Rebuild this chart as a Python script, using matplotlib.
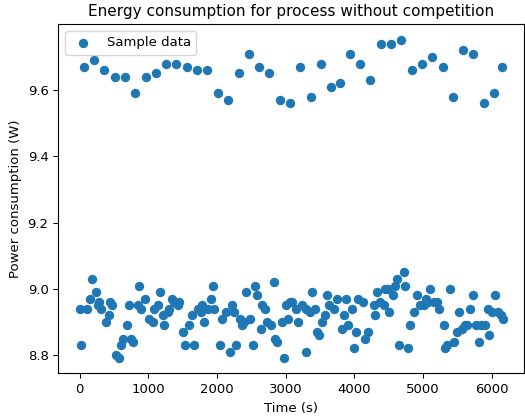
import matplotlib
matplotlib.use("Agg")
import matplotlib.pyplot as plt

# samples: time (s), power (W)
upper_t = [58, 208, 360, 510, 661, 812, 963, 1113, 1264, 1409, 1560, 1710,
           1861, 2012, 2162, 2314, 2464, 2615, 2765, 2911, 3061, 3212, 3363,
           3514, 3665, 3786, 3936, 4082, 4233, 4383, 4534, 4685, 4836, 4987,
           5137, 5288, 5438, 5584, 5735, 5886, 6036, 6150]
upper_p = [9.67, 9.69, 9.66, 9.64, 9.64, 9.59, 9.64, 9.65, 9.68, 9.68, 9.67,
           9.66, 9.66, 9.59, 9.57, 9.65, 9.71, 9.67, 9.65, 9.57, 9.56, 9.67,
           9.58, 9.68, 9.61, 9.62, 9.71, 9.68, 9.63, 9.74, 9.74, 9.75, 9.66,
           9.68, 9.70, 9.67, 9.58, 9.72, 9.71, 9.56, 9.59, 9.67]

lower_t = [0, 25, 107, 156, 179, 243, 267, 282, 316, 389, 423, 438, 477, 534,
           568, 598, 632, 690, 719, 753, 778, 850, 865, 899, 948,
           1016, 1064, 1088, 1137, 1171, 1220, 1234, 1283, 1307, 1346, 1380,
           1429, 1454, 1502, 1536, 1600, 1638, 1672, 1720, 1769, 1784, 1818,
           1866, 1914, 1949, 1963, 2040,
           2080, 2129, 2187, 2216, 2250, 2284, 2333, 2372, 2395, 2430, 2479,
           2527, 2556, 2585, 2639, 2663, 2702, 2736, 2790, 2824, 2848, 2877,
           2946, 2974, 3004, 3028, 3061,
           3095, 3145, 3183, 3241, 3291, 3304, 3349, 3387, 3426, 3460, 3485,
           3533, 3572, 3605, 3631, 3703, 3751, 3815, 3849, 3874, 3912, 3961,
           3994, 4019, 4058, 4126, 4155,
           4200, 4282, 4296, 4330, 4379, 4427, 4452, 4491, 4501, 4563, 4597,
           4622, 4655, 4719, 4743, 4776, 4807, 4865, 4913, 4962, 5011, 5044,
           5073, 5107, 5157, 5205,
           5230, 5300, 5320, 5350, 5390, 5455, 5490, 5528, 5575, 5608, 5640,
           5678, 5735, 5765, 5820, 5845, 5905, 5940, 5965, 6012, 6050, 6085,
           6130, 6165]
lower_p = [8.94, 8.83, 8.94, 8.97, 9.03, 8.99, 8.95, 8.96, 8.94, 8.90, 8.92,
           8.96, 8.95, 8.80, 8.79, 8.83, 8.85, 8.89, 8.95, 8.85, 8.84, 8.95,
           9.01, 8.94, 8.97,
           8.91, 8.90, 8.94, 8.95, 8.99, 8.92, 8.89, 8.93, 8.94, 8.97, 8.96,
           8.95, 8.96, 8.87, 8.83, 8.89, 8.92, 8.83, 8.94, 8.93, 8.95, 8.90,
           8.94, 8.97, 9.01, 8.94, 8.83,
           8.91, 8.93, 8.81, 8.95, 8.93, 8.83, 8.91, 8.89, 8.90, 8.99, 8.91,
           8.83, 9.01, 8.98, 8.88, 8.95, 8.94, 8.90, 8.89, 9.02, 8.85, 8.84,
           8.90, 8.79, 8.95, 8.91, 8.96,
           8.96, 8.94, 8.90, 8.95, 8.94, 8.81, 8.93, 8.99, 8.94, 8.87, 8.86,
           8.90, 8.92, 8.98, 8.95, 8.94, 8.97, 8.88, 8.92, 8.97, 8.89, 8.94,
           8.82, 8.87, 8.97, 8.96, 8.85,
           8.87, 8.95, 8.92, 8.99, 8.96, 8.95, 9.00, 9.00, 8.93, 8.98, 9.01,
           9.03, 8.83, 9.05, 9.01, 8.82, 8.89, 8.93, 8.98, 8.95, 8.95, 8.97,
           8.96, 9.00, 8.96, 8.96,
           8.94, 8.89, 8.82, 8.83, 9.00, 8.84, 8.87, 8.93, 8.88, 8.89, 8.89,
           8.94, 8.98, 8.89, 8.84, 8.89, 8.89, 8.94, 8.86, 8.93, 8.98, 8.93,
           8.92, 8.91]

times = lower_t + upper_t
power = lower_p + upper_p

plt.rcParams["font.size"] = 9.5
plt.rcParams["axes.titlesize"] = 11

fig = plt.figure(figsize=(5.25, 4.16), dpi=100)
ax = fig.add_axes([0.111, 0.1026, 0.887, 0.8387])

ax.scatter(times, power, s=33, color="#1f77b4", label="Sample data")

ax.set_xlim(-310, 6470)
ax.set_ylim(8.745, 9.798)
ax.set_xlabel("Time (s)")
ax.set_ylabel("Power consumption (W)")
ax.set_title("Energy consumption for process without competition")
ax.legend(loc="upper left")

fig.savefig("out.png", dpi=100)
